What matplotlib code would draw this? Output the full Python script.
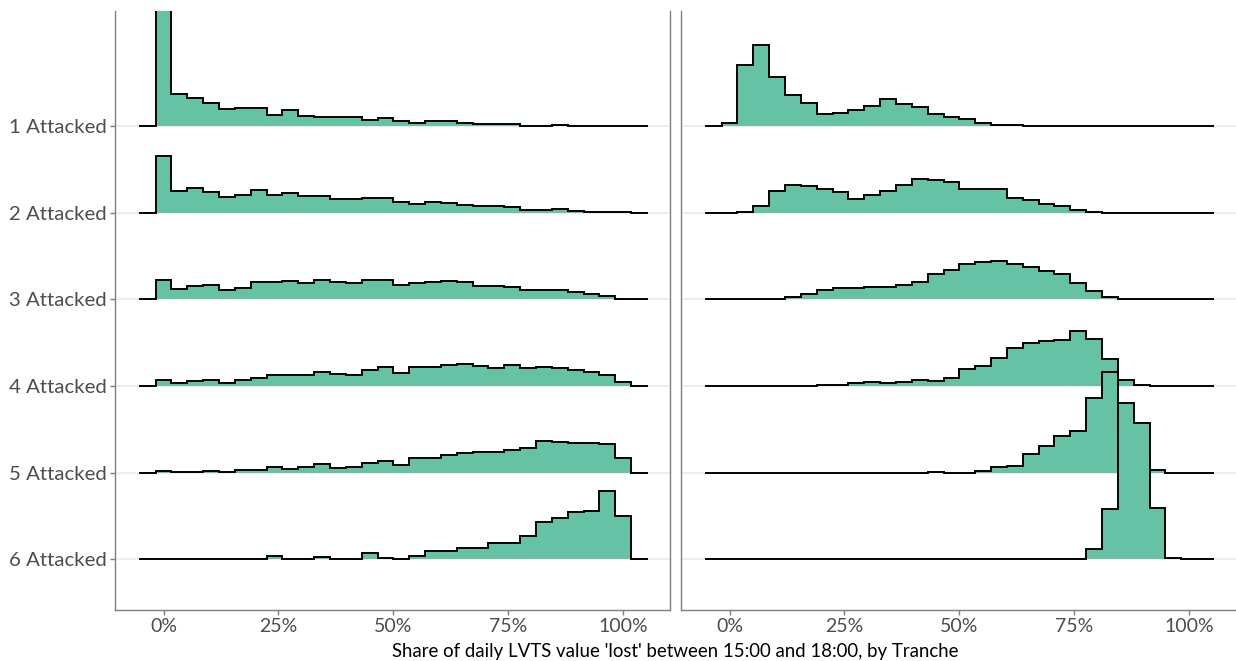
import matplotlib
matplotlib.use("Agg")
import matplotlib.pyplot as plt
import numpy as np

plt.rcParams['font.family'] = ['Lato', 'DejaVu Sans']

# tranche labels, top to bottom
tranches = ["1 Attacked", "2 Attacked", "3 Attacked", "4 Attacked", "5 Attacked", "6 Attacked"]

# 30 bins centred on 0, 1/29, ..., 1 (share lost); heights in relative density units
left_1 = [200, 32.3, 28, 22.7, 17.3, 18, 18, 10.7, 15.7, 9.7, 8.7, 8.7, 8.7, 6.3, 8.3,
          5, 3, 5, 4.7, 3, 2.3, 2, 1.7, 0.3, 0.3, 0.7, 0.3, 0.3, 0.3, 0.1]
left_2 = [57, 22, 24.7, 21, 15.3, 17.3, 22.3, 18, 20, 16.7, 16.7, 14, 13.3, 14.7, 15,
          10.7, 8.7, 10.7, 10, 8, 6.3, 7, 5.7, 2.7, 3, 3.3, 2, 1, 0.3, 0.3]
left_3 = [19.3, 10, 13.3, 14.7, 9.7, 11.3, 17, 17.3, 18, 16.3, 19.7, 17, 16, 19.3, 19.3,
          14.3, 16.7, 17.3, 18, 17, 13, 13, 12.7, 9.7, 9.3, 9.3, 7.7, 5, 3.3, 0.7]
left_4 = [5.7, 3, 4.7, 5.7, 3.3, 6, 8.3, 11.3, 10.7, 10.7, 14, 12.3, 11, 16, 19,
          13, 19.3, 18.7, 21, 21.7, 20, 18.3, 20.7, 18, 19.3, 18, 15.7, 13.7, 10.7, 3.7]
left_5 = [1.7, 0.3, 1, 1.3, 0.7, 2.3, 2.7, 5.7, 4, 5.3, 8.3, 4.7, 5.3, 9.7, 11.7,
          7.7, 14.7, 14.7, 17.7, 20, 20.3, 21, 23, 24.3, 31.3, 31, 29.3, 30, 28.7, 14.7]
left_6 = [0, 0, 0, 0, 0, 0, 0, 3.7, 0, 0, 2, 0, 0, 6.7, 1.7,
          0, 3.7, 8.3, 8.3, 11.3, 11.3, 16.3, 16.3, 23, 37, 41, 47, 48.7, 68.3, 43.3]

right_1 = [2.7, 61, 81, 48.7, 31.3, 23, 11.7, 13.3, 16, 20.3, 27, 21.7, 19, 12, 8.7,
           7, 3, 0.7, 1.3, 0, 0, 0, 0, 0, 0, 0, 0, 0, 0, 0]
right_2 = [0, 0.3, 6.3, 22, 27.3, 26.7, 24, 20.3, 13.7, 18, 21.7, 28, 33.3, 32.7, 30.3,
           24, 24, 24, 15, 12.7, 9, 6.7, 2.3, 0.7, 0, 0, 0, 0, 0, 0]
right_3 = [0, 0, 0, 0.7, 2.3, 5.3, 9.7, 11, 11.7, 12.3, 12.3, 14.7, 17, 25.3, 29.3,
           35, 37.7, 38.3, 35.7, 32, 28.7, 25, 16, 8, 2, 0.3, 0, 0, 0, 0]
right_4 = [0, 0, 0, 0, 0, 0, 0.7, 1, 2.7, 3.7, 3, 4.3, 6.3, 5.3, 8,
           16.7, 20, 28.3, 37.7, 43.3, 44.7, 45.7, 54.7, 47.3, 27.3, 6.3, 1.3, 0, 0, 0]
right_5 = [0, 0, 0, 0, 0, 0, 0, 0, 0, 0, 0, 0, 0, 0.3, 0,
           0, 1.7, 5.3, 7, 18.7, 27, 36.7, 41.3, 74.3, 101, 45, 15, 2.5, 0, 0]
right_6 = [0, 0, 0, 0, 0, 0, 0, 0, 0, 0, 0, 0, 0, 0, 0,
           0, 0, 0, 0, 0, 0, 0, 0, 10, 50, 156, 136.7, 51.7, 1.7, 0]

left_rows = [left_1, left_2, left_3, left_4, left_5, left_6]
right_rows = [right_1, right_2, right_3, right_4, right_5, right_6]

n_bins = 30
width = 100 / (n_bins - 1)
# bin edges plus one empty bin on each side (binline outline)
edges = (np.arange(-1, n_bins + 2) - 0.5) * width
ridge_scale = 1 / 86.65

fill_col = "#66c2a5"
axis_col = "#7f7f7f"
text_col = "#4d4d4d"

fig = plt.figure(figsize=(12.36, 6.61), dpi=100)
W, H = 1236, 661
axL = fig.add_axes([115 / W, 51 / H, 555 / W, 599 / H])
axR = fig.add_axes([681 / W, 51 / H, 555 / W, 599 / H])


def draw_panel(ax, rows):
    n = len(rows)
    for i, vals in enumerate(rows):
        base = n - i
        h = np.concatenate([[0], np.asarray(vals, float), [0]]) * ridge_scale + base
        xs = np.repeat(edges, 2)[1:-1]
        ys = np.repeat(h, 2)
        ax.axhline(base, color="#ebebeb", lw=1.2, zorder=0)
        ax.fill_between(xs, base, ys, color=fill_col, lw=0, zorder=2 + i)
        ax.plot(xs, ys, color="black", lw=1.4, zorder=2 + i, solid_joinstyle="miter")
    ax.set_xlim(-10.57, 110.2)
    ax.set_ylim(0.415, 7.327)
    ax.set_xticks([0, 25, 50, 75, 100])
    ax.set_xticklabels([f"{v}%" for v in [0, 25, 50, 75, 100]])
    for s in ["top", "right"]:
        ax.spines[s].set_visible(False)
    for s in ["left", "bottom"]:
        ax.spines[s].set_color(axis_col)
        ax.spines[s].set_linewidth(1.0)
    ax.tick_params(axis="x", length=3.6, width=1.0, color=axis_col,
                   labelcolor=text_col, labelsize=14, pad=2)
    ax.set_facecolor("white")


draw_panel(axL, left_rows)
draw_panel(axR, right_rows)

axL.spines["right"].set_visible(True)
axL.spines["right"].set_color(axis_col)
axL.spines["right"].set_linewidth(1.0)

axL.set_yticks(range(len(tranches), 0, -1))
axL.set_yticklabels(tranches)
axL.tick_params(axis="y", length=3.6, width=1.0, color=axis_col,
                labelcolor=text_col, labelsize=14.7, pad=2)
axR.set_yticks([])

fig.text(675.5 / W, 1 - 651 / H,
         "Share of daily LVTS value 'lost' between 15:00 and 18:00, by Tranche",
         ha="center", va="center", fontsize=13.4, color="black")

fig.savefig("out.png", dpi=100)
